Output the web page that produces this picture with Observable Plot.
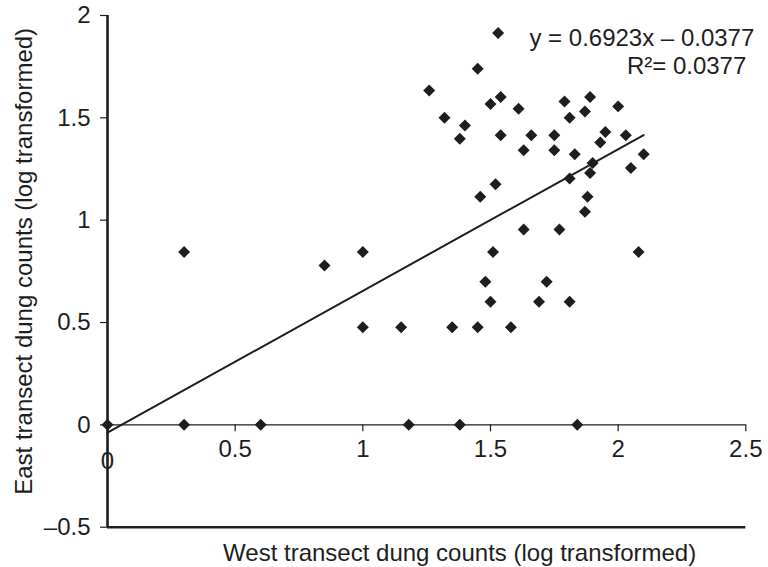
<!DOCTYPE html>
<html>
<head>
<meta charset="utf-8">
<script src="https://cdn.jsdelivr.net/npm/d3@7"></script>
<script src="https://cdn.jsdelivr.net/npm/@observablehq/plot@0.6"></script>
<style>
  html, body { margin: 0; padding: 0; background: #fff; }
  #chart { width: 768px; height: 567px; }
</style>
</head>
<body>
<div id="chart"></div>
<script>
// West transect (x) and East transect (y) dung counts, log transformed
const westX = [0, 0.30, 0.60, 1.18, 1.38, 1.84,
  0.30, 0.85, 1.00, 1.00, 1.15, 1.35, 1.45, 1.58,
  1.50, 1.69, 1.81, 1.48, 1.72, 1.51, 2.08,
  1.63, 1.77, 1.87, 1.46, 1.88, 1.52, 1.81, 1.89, 2.05, 1.90,
  1.83, 2.10, 1.63, 1.75, 1.38, 1.93, 1.54, 1.66, 1.75, 2.03, 1.95,
  1.40, 1.32, 1.81, 1.87, 1.61, 2.00, 1.50, 1.54, 1.79, 1.89,
  1.26, 1.45, 1.53];
const eastY = [0, 0, 0, 0, 0, 0,
  0.845, 0.778, 0.845, 0.477, 0.477, 0.477, 0.477, 0.477,
  0.602, 0.602, 0.602, 0.699, 0.699, 0.845, 0.845,
  0.954, 0.954, 1.041, 1.114, 1.114, 1.176, 1.204, 1.230, 1.255, 1.279,
  1.322, 1.322, 1.342, 1.342, 1.398, 1.380, 1.415, 1.415, 1.415, 1.415, 1.431,
  1.462, 1.500, 1.500, 1.531, 1.544, 1.556, 1.568, 1.602, 1.580, 1.602,
  1.633, 1.740, 1.914];

// Fitted trend line (from the chart's equation)
const fitSlope = [0.6923];
const fitIntercept = [-0.0377];
const fitRangeX = [0, 2.1];

const xTicks = [0.5, 1, 1.5, 2, 2.5];
const xTickLabels = ["0.5", "1", "1.5", "2", "2.5"];
const xZeroLabel = ["0"];
const yTicks = [-0.5, 0, 0.5, 1, 1.5, 2];
const yTickLabels = ["\u20130.5", "0", "0.5", "1", "1.5", "2"];

const eqLine1 = ["y = 0.6923x \u2013 0.0377"];
const eqLine2 = ["R\u00B2= 0.0377"];
const xTitle = ["West transect dung counts (log transformed)"];
const yTitle = ["East transect dung counts (log transformed)"];

const points = westX.map((x, i) => ({x, y: eastY[i]}));
const fit = fitRangeX.map(x => ({x, y: fitSlope[0] * x + fitIntercept[0]}));
const ink = "#1e1e1e";

const chart = Plot.plot({
  width: 768,
  height: 567,
  marginLeft: 107,
  marginRight: 22.7,
  marginTop: 15,
  marginBottom: 40.3,
  style: {fontFamily: "'Liberation Sans', Arial, Helvetica, sans-serif", fontSize: "24px", color: ink, background: "#fff"},
  x: {domain: [0, 2.5], axis: null},
  y: {domain: [-0.5, 2], axis: null},
  marks: [
    // y axis ticks & labels
    Plot.axisY(yTicks, {
      tickSize: 7, tickPadding: 10, stroke: ink, strokeWidth: 1.2,
      tickFormat: (d) => yTickLabels[yTicks.indexOf(d)],
      fontSize: 24, fill: ink, label: null
    }),
    // x axis line at y = 0
    Plot.ruleY([0], {x1: 0, x2: 2.5, stroke: ink, strokeWidth: 1.3}),
    // x ticks hanging below the zero line
    Plot.ruleX(xTicks, {x: d => d, y1: 0, y2: 0, insetBottom: -7, stroke: ink, strokeWidth: 1.2}),
    Plot.text(xTicks, {x: d => d, y: 0, text: (d, i) => xTickLabels[i], dy: 24, lineAnchor: "middle", fill: ink}),
    Plot.text(xZeroLabel, {x: 0, y: 0, text: d => d, dy: 36, lineAnchor: "middle", fill: ink}),
    // frame lines
    Plot.ruleY([-0.5], {x1: 0, x2: 2.5, stroke: ink, strokeWidth: 2.6}),
    Plot.ruleX([0], {y1: -0.5, y2: 2, stroke: ink, strokeWidth: 2.6}),
    // trend line
    Plot.line(fit, {x: "x", y: "y", stroke: ink, strokeWidth: 2}),
    // points
    Plot.dot(points, {x: "x", y: "y", symbol: "diamond2", r: 5.4, fill: ink, stroke: "none"}),
    // equation
    Plot.text(eqLine1, {frameAnchor: "top-right", text: d => d, textAnchor: "end", lineAnchor: "middle", dx: 8.5, dy: 23, fill: ink}),
    Plot.text(eqLine2, {frameAnchor: "top-right", text: d => d, textAnchor: "end", lineAnchor: "middle", dx: 0.5, dy: 51, fill: ink}),
    // axis titles
    Plot.text(xTitle, {frameAnchor: "bottom", text: d => d, textAnchor: "middle", lineAnchor: "middle", dx: 33, dy: 26, fill: ink}),
    Plot.text(yTitle, {frameAnchor: "left", text: d => d, rotate: -90, textAnchor: "middle", lineAnchor: "middle", dx: -83, dy: -10, fill: ink})
  ]
});
document.getElementById("chart").appendChild(chart);
</script>
</body>
</html>
